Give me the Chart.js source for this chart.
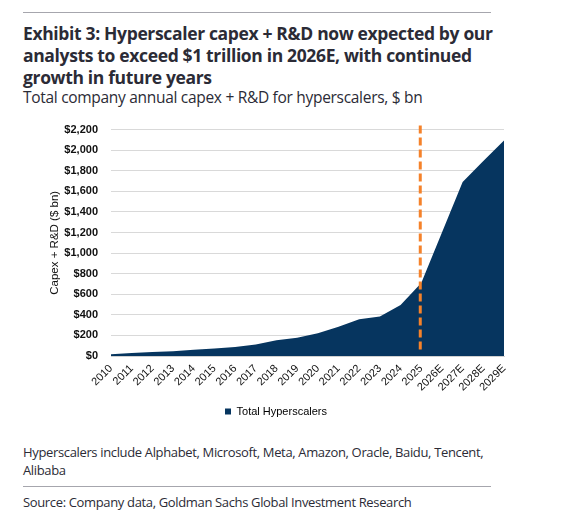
<!DOCTYPE html>
<html>
<head>
<meta charset="utf-8">
<script src="https://cdn.jsdelivr.net/npm/chart.js@4.4.1/dist/chart.umd.min.js"></script>
<style>
  html, body { margin: 0; padding: 0; background: #fff; }
  body { width: 567px; height: 524px; position: relative; overflow: hidden; font-family: "Open Sans", sans-serif; }
  .rule { position: absolute; left: 23px; width: 468px; height: 0; border-top: 1px solid #a6a6ad; }
  .title { position: absolute; left: 23px; top: 22px; font-weight: 700; font-size: 17.5px; letter-spacing: -0.35px; line-height: 22px; color: #2b2b36; white-space: nowrap; }
  .sub { position: absolute; left: 23px; top: 86px; font-size: 15.5px; letter-spacing: -0.3px; line-height: 22px; color: #2b2b36; white-space: nowrap; }
  .note { position: absolute; left: 23px; top: 443px; width: 480px; font-size: 13px; letter-spacing: -0.35px; line-height: 18px; color: #2b2b36; }
  .src { position: absolute; left: 23px; top: 493px; font-size: 13px; letter-spacing: -0.35px; line-height: 18px; color: #2b2b36; white-space: nowrap; }
  #wrap { position: absolute; left: 0; top: 110px; width: 567px; height: 320px; }
</style>
</head>
<body>
<div class="rule" style="top:12px"></div>
<div class="title">Exhibit 3: Hyperscaler capex + R&amp;D now expected by our<br>analysts to exceed $1 trillion in 2026E, with continued<br>growth in future years</div>
<div class="sub">Total company annual capex + R&amp;D for hyperscalers, $ bn</div>
<div id="wrap"><canvas id="chart"></canvas></div>
<div class="note">Hyperscalers include Alphabet, Microsoft, Meta, Amazon, Oracle, Baidu, Tencent, Alibaba</div>
<div class="rule" style="top:486px"></div>
<div class="src">Source: Company data, Goldman Sachs Global Investment Research</div>

<script>
// years on the x axis (E = estimate)
const years = ['2010', '2011', '2012', '2013', '2014', '2015', '2016', '2017', '2018', '2019',
  '2020', '2021', '2022', '2023', '2024', '2025', '2026E', '2027E', '2028E', '2029E'];
// total hyperscaler capex + R&D, $ bn
const capex = [18, 28, 38, 47, 60, 72, 88, 112, 152, 177,
  222, 285, 357, 384, 495, 710, 1200, 1692, 1895, 2095];
const yMax = 2200;
const yStep = 200;
const markerYear = '2025';

const NAVY = '#06355f';
const ORANGE = '#f5822a';
const AXIS_FONT = '"Liberation Sans", Arial, sans-serif';

// orange dashed vertical line at the last actual year
const markerLine = {
  id: 'markerLine',
  afterDatasetsDraw(chart) {
    const { ctx, scales: { x, y } } = chart;
    const px = x.getPixelForValue(years.indexOf(markerYear)) - 1;
    ctx.save();
    ctx.strokeStyle = ORANGE;
    ctx.lineWidth = 3;
    ctx.setLineDash([8, 4]);
    ctx.beginPath();
    ctx.moveTo(px, y.getPixelForValue(2240));
    ctx.lineTo(px, y.getPixelForValue(60));
    ctx.stroke();
    ctx.restore();
  }
};

new Chart(document.getElementById('chart'), {
  type: 'line',
  data: {
    labels: years,
    datasets: [{
      label: 'Total Hyperscalers',
      data: capex,
      fill: 'origin',
      backgroundColor: NAVY,
      borderColor: NAVY,
      borderWidth: 0,
      pointRadius: 0,
      tension: 0
    }]
  },
  options: {
    responsive: true,
    maintainAspectRatio: false,
    animation: false,
    layout: { padding: { left: 48, right: 63, top: 18, bottom: 3 } },
    plugins: {
      legend: {
        position: 'bottom',
        labels: {
          boxWidth: 6, boxHeight: 6, padding: 10,
          color: '#111',
          font: { family: AXIS_FONT, size: 11 },
          generateLabels: chart => [{
            text: 'Total Hyperscalers', fillStyle: NAVY, strokeStyle: NAVY,
            lineWidth: 0, datasetIndex: 0
          }]
        }
      },
      tooltip: { enabled: false }
    },
    scales: {
      x: {
        offset: false,
        grid: { display: false, drawTicks: false },
        border: { color: '#d0d0d0' },
        afterFit: s => { s.height = 40; },
        ticks: {
          autoSkip: false, maxRotation: 45, minRotation: 45, padding: 6,
          color: '#111', font: { family: AXIS_FONT, size: 11 }
        }
      },
      y: {
        min: 0, max: yMax,
        grid: { color: '#d9d9d9', drawTicks: false },
        border: { display: false },
        afterFit: s => { s.width = 63; },
        title: {
          display: true, text: 'Capex + R&D ($ bn)', padding: 0,
          color: '#111', font: { family: AXIS_FONT, size: 11.5 }
        },
        ticks: {
          stepSize: yStep, padding: 13,
          color: '#111', font: { family: AXIS_FONT, size: 11, weight: 'bold' },
          callback: v => '$' + v.toLocaleString('en-US')
        }
      }
    }
  },
  plugins: [markerLine]
});
</script>
</body>
</html>
